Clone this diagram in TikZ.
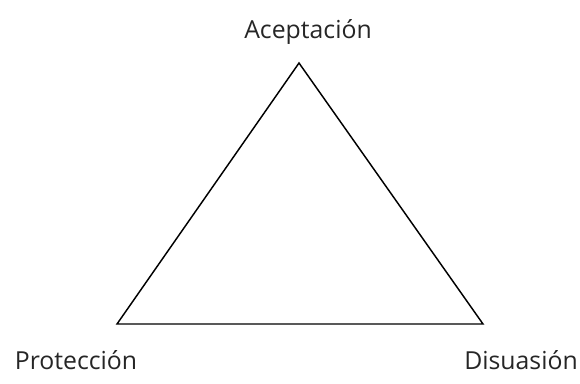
\documentclass[tikz,border=0pt]{standalone}
\usepackage{fontspec}
\setmainfont{Open Sans}
\begin{document}
\begin{tikzpicture}[x=0.75pt,y=-0.75pt]
\useasboundingbox (0,0) rectangle (580,383);
\tikzset{label text/.style={anchor=base, inner sep=0pt, font=\fontsize{18.6}{22}\selectfont, text=black!85}}

\coordinate (T) at (299,63);
\coordinate (L) at (117,324);
\coordinate (R) at (483,324);

\draw[line width=1.1pt, line join=miter] (T) -- (L) -- (R) -- cycle;

\node[label text] (acep) at (308,38) {Aceptación};
\node[label text] (prot) at (76,369) {Protección};
\node[label text] (disu) at (521,369) {Disuasión};
\end{tikzpicture}
\end{document}
